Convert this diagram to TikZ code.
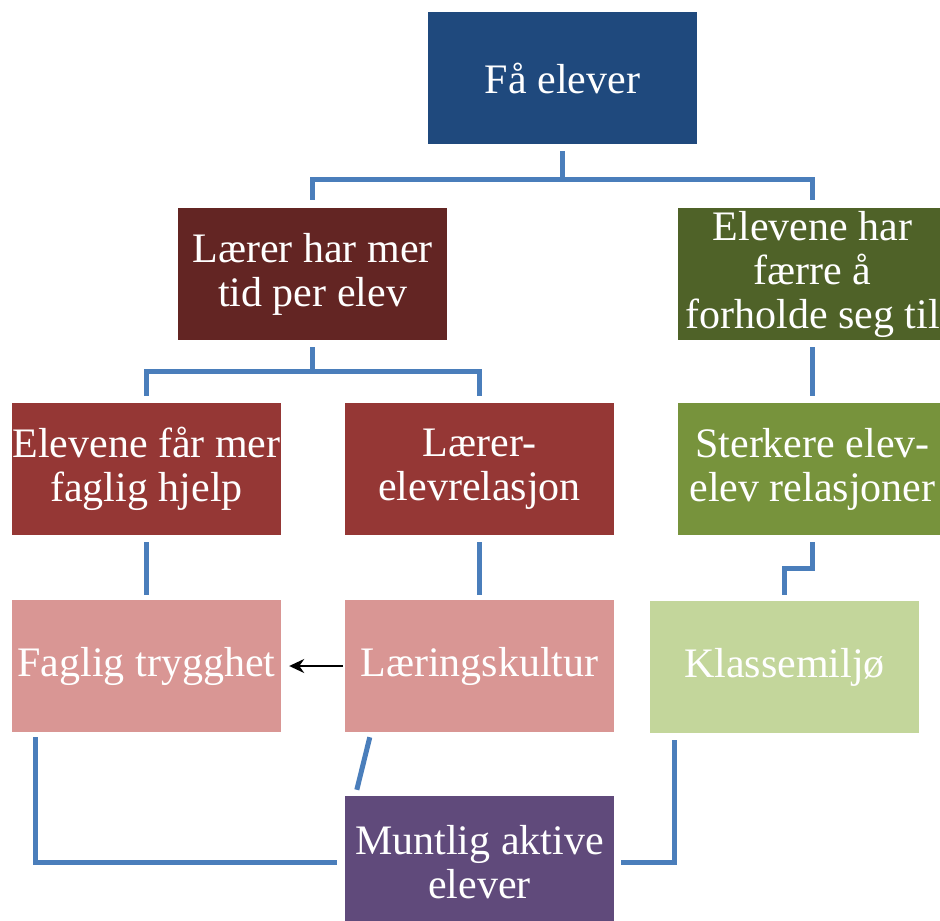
\documentclass[tikz,border=0pt]{standalone}
\usepackage{fontspec}
\setmainfont{Liberation Serif}
\usetikzlibrary{arrows.meta}
\definecolor{fewblue}{HTML}{1F497D}
\definecolor{darkred}{HTML}{632523}
\definecolor{darkgreen}{HTML}{4F6228}
\definecolor{midred}{HTML}{953735}
\definecolor{midgreen}{HTML}{77933C}
\definecolor{lightred}{HTML}{D99694}
\definecolor{lightgreen}{HTML}{C3D69B}
\definecolor{purple}{HTML}{604A7B}
\definecolor{linkblue}{HTML}{4A7EBB}

\begin{document}
\begin{tikzpicture}[x=1pt,y=-1pt,
            box/.style={minimum width=269pt,minimum height=132pt,inner sep=0pt,
                        text=white,align=center,font=\fontsize{42}{44}\selectfont},
            conn/.style={draw=linkblue,line width=5pt},
            hint/.style={->,>={Stealth[length=15pt,width=14pt]},line width=1.8pt,shorten >=8pt,shorten <=2pt}]
            \clip (0,0) rectangle (940,921);
            \node[box,fill=fewblue] (few) at (562.5,78) {Få elever};
            \node[box,fill=darkred] (time) at (312.5,274) {Lærer har mer\\tid per elev};
            \node[box,fill=darkgreen] (fewer) at (812.5,274) {Elevene har\\færre å\\forholde seg til};
            \node[box,fill=midred] (help) at (146.5,469) {Elevene får mer\\faglig hjelp};
            \node[box,fill=midred] (rel) at (479.5,469) {Lærer-\\elevrelasjon};
            \node[box,fill=midgreen] (peer) at (812.5,469) {Sterkere elev-\\elev relasjoner};
            \node[box,fill=lightred] (safe) at (146.5,666) {Faglig trygghet};
            \node[box,fill=lightred] (cult) at (479.5,666) {Læringskultur};
            \node[box,fill=lightgreen] (class) at (784.5,667) {Klassemiljø};
            \node[box,fill=purple] (oral) at (479.5,862) {Muntlig aktive\\elever};

            \path[conn] ([yshift=-7pt]few.south) -- ++(0,28) -| ([yshift=8pt]time.north);
            \path[conn] ([yshift=-7pt]few.south) -- ++(0,28) -| ([yshift=8pt]fewer.north);
            \path[conn] ([yshift=-7pt]time.south) -- ++(0,24) -| ([yshift=7pt]help.north);
            \path[conn] ([yshift=-7pt]time.south) -- ++(0,24) -| ([yshift=7pt]rel.north);
            \path[conn] ([yshift=-7pt]fewer.south) -- ([yshift=7pt]peer.north);
            \path[conn] ([yshift=-7pt]help.south) -- ([yshift=5pt]safe.north);
            \path[conn] ([yshift=-7pt]rel.south) -- ([yshift=5pt]cult.north);
            \path[conn] ([yshift=-7pt]peer.south) -- ++(0,26) -| ([yshift=6pt]class.north);
            \path[conn] ([xshift=24pt,yshift=-5pt]safe.south west) |- ([xshift=-8pt]oral.west);
            \path[conn] ([xshift=25pt,yshift=-5pt]cult.south west) -- ([xshift=12pt,yshift=6pt]oral.north west);
            \path[conn] ([xshift=25pt,yshift=-7pt]class.south west) |- ([xshift=7pt]oral.east);
            \draw[hint] (cult.west) -- (safe.east);
\end{tikzpicture}
\end{document}
